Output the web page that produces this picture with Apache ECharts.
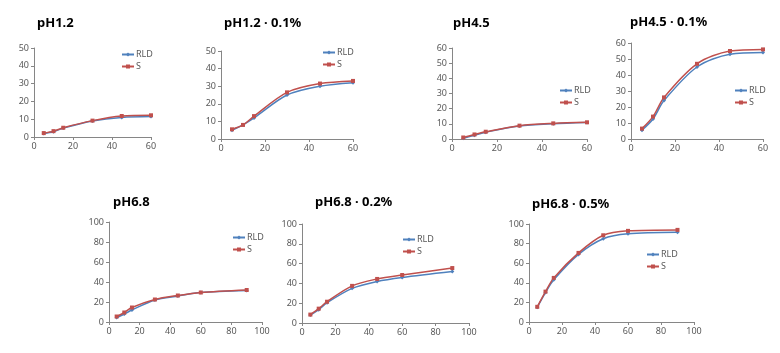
<!DOCTYPE html>
<html><head><meta charset="utf-8">
<script src="https://cdn.jsdelivr.net/npm/echarts@6/dist/echarts.min.js"></script>
<style>html,body{margin:0;padding:0;background:#fff}#c{width:780px;height:353px}</style>
</head><body><div id="c"></div>
<script>
// ---- data ----
const titles = ['pH1.2', 'pH1.2 · 0.1%', 'pH4.5', 'pH4.5 · 0.1%', 'pH6.8', 'pH6.8 · 0.2%', 'pH6.8 · 0.5%'];
const timesShort = [5, 10, 15, 30, 45, 60];
const timesLong = [5, 10, 15, 30, 45, 60, 90];
const rld1 = [2, 3, 5, 9, 11, 11.5];
const s1   = [2.2, 3.3, 5.2, 9.2, 11.8, 12.2];
const rld2 = [5, 8, 12, 25, 30, 32];
const s2   = [5.5, 8, 13, 26.5, 31.5, 33];
const rld3 = [0.5, 2.5, 4.5, 8.5, 10, 10.8];
const s3   = [1, 3, 4.8, 8.8, 10.3, 11];
const rld4 = [5.5, 12.5, 24, 45, 53, 54];
const s4   = [6.5, 14, 26, 47, 55, 56];
const rld5 = [4.5, 8, 12, 22, 26, 29.5, 31.5];
const s5   = [5.5, 9.5, 14.5, 22.5, 26.5, 29.5, 32];
const rld6 = [8, 13.5, 20.5, 35, 42, 46, 52];
const s6   = [8.5, 14.5, 21.5, 37.5, 44.5, 48.5, 55.5];
const rld7 = [15, 30, 43, 69, 85, 90, 91.5];
const s7   = [15.5, 31, 45, 70.5, 88.5, 93, 94];
const xMax = [60, 60, 60, 60, 100, 100, 100];
const yMax = [50, 50, 60, 60, 100, 100, 100];
const yInt = [10, 10, 10, 10, 20, 20, 20];
const xInt = [20, 20, 20, 20, 20, 20, 20];

// ---- layout ----
const grids = [
  {left: 34, top: 48, width: 117, height: 89},
  {left: 221, top: 51, width: 132, height: 88},
  {left: 452, top: 48, width: 135, height: 91},
  {left: 631, top: 43, width: 132, height: 96},
  {left: 109, top: 222, width: 153, height: 100},
  {left: 302, top: 224, width: 167, height: 99},
  {left: 529, top: 224, width: 165, height: 98}
];
const titlePos = [[37, 17], [224, 17], [453, 17], [630, 16], [113, 196], [315, 196], [532, 198]];
const legendPos = [[121, 50], [322, 48], [559, 86], [734, 86], [232, 233], [402, 235], [646, 250]];

const rldSets = [rld1, rld2, rld3, rld4, rld5, rld6, rld7];
const sSets = [s1, s2, s3, s4, s5, s6, s7];
const BLUE = '#4F81BD', RED = '#C0504D';
const AX = '#868686', LBL = '#595959';

const option = {
  animation: false,
  textStyle: {fontFamily: 'Noto Sans'},
  title: titles.map((t, i) => ({
    text: t, left: titlePos[i][0], top: titlePos[i][1], padding: 0,
    textStyle: {fontSize: 13, fontWeight: 'bold', color: '#000', fontFamily: 'Noto Sans'}
  })),
  grid: grids,
  xAxis: grids.map((g, i) => ({
    type: 'value', gridIndex: i, min: 0, max: xMax[i], interval: xInt[i],
    axisLine: {show: true, lineStyle: {color: AX}},
    axisTick: {show: true, length: 3, lineStyle: {color: AX}},
    splitLine: {show: false},
    axisLabel: {fontSize: 9, color: LBL, margin: 5}
  })),
  yAxis: grids.map((g, i) => ({
    type: 'value', gridIndex: i, min: 0, max: yMax[i], interval: yInt[i],
    axisLine: {show: true, lineStyle: {color: AX}},
    axisTick: {show: true, length: 3, lineStyle: {color: AX}},
    splitLine: {show: false},
    axisLabel: {fontSize: 9, color: LBL, margin: 5}
  })),
  legend: grids.map((g, i) => ({
    data: ['RLD' + i, 'S' + i].map((n) => ({name: n})),
    formatter: (n) => n.replace(/\d+$/, ''),
    orient: 'vertical', left: legendPos[i][0], top: legendPos[i][1], padding: 0,
    itemWidth: 12, itemHeight: 5, itemGap: 3,
    textStyle: {fontSize: 9, color: LBL, padding: [0, 0, 0, -3]}
  })),
  series: []
};

for (let i = 0; i < 7; i++) {
  const xs = xMax[i] === 60 ? timesShort : timesLong;
  option.series.push({
    name: 'RLD' + i, type: 'line', xAxisIndex: i, yAxisIndex: i, smooth: 0.3,
    data: xs.map((x, k) => [x, rldSets[i][k]]),
    symbol: 'diamond', symbolSize: 4,
    lineStyle: {color: BLUE, width: 1.5}, itemStyle: {color: BLUE}
  });
  option.series.push({
    name: 'S' + i, type: 'line', xAxisIndex: i, yAxisIndex: i, smooth: 0.3,
    data: xs.map((x, k) => [x, sSets[i][k]]),
    symbol: 'rect', symbolSize: 4,
    lineStyle: {color: RED, width: 1.5}, itemStyle: {color: RED}
  });
}

const chart = echarts.init(document.getElementById('c'), null, {renderer: 'canvas'});
chart.setOption(option);
</script></body></html>
